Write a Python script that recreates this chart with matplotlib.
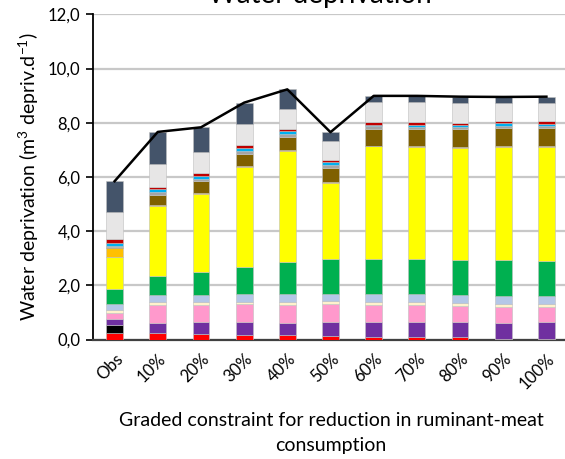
import matplotlib
matplotlib.use("Agg")
import matplotlib.pyplot as plt
import numpy as np

plt.rcParams['font.family'] = ['Lato', 'DejaVu Sans']
plt.rcParams['mathtext.fontset'] = 'custom'
plt.rcParams['mathtext.rm'] = 'Lato'
plt.rcParams['mathtext.it'] = 'Lato:italic'
plt.rcParams['mathtext.bf'] = 'Lato:bold'

categories = ["Obs", "10%", "20%", "30%", "40%", "50%", "60%", "70%", "80%", "90%", "100%"]

# stacked layers, bottom to top
red       = [0.25, 0.24, 0.21, 0.17, 0.17, 0.14, 0.09, 0.09, 0.08, 0.02, 0.02]
black     = [0.29, 0.00, 0.00, 0.00, 0.00, 0.00, 0.00, 0.00, 0.00, 0.00, 0.00]
purple    = [0.23, 0.36, 0.42, 0.46, 0.45, 0.49, 0.57, 0.57, 0.58, 0.60, 0.61]
pink      = [0.22, 0.68, 0.65, 0.67, 0.66, 0.67, 0.62, 0.60, 0.59, 0.59, 0.58]
beige     = [0.10, 0.10, 0.10, 0.09, 0.12, 0.11, 0.10, 0.12, 0.10, 0.11, 0.11]
lightblue = [0.23, 0.25, 0.25, 0.28, 0.27, 0.26, 0.29, 0.29, 0.28, 0.27, 0.29]
green     = [0.54, 0.72, 0.87, 1.01, 1.18, 1.31, 1.31, 1.31, 1.30, 1.33, 1.30]
yellow    = [1.20, 2.59, 2.87, 3.70, 4.12, 2.81, 4.15, 4.13, 4.14, 4.20, 4.20]
orange    = [0.32, 0.02, 0.02, 0.02, 0.02, 0.02, 0.02, 0.02, 0.02, 0.02, 0.02]
brown     = [0.03, 0.38, 0.46, 0.45, 0.48, 0.53, 0.61, 0.63, 0.66, 0.66, 0.66]
tan       = [0.04, 0.10, 0.07, 0.11, 0.11, 0.10, 0.10, 0.09, 0.08, 0.08, 0.09]
cyan      = [0.10, 0.12, 0.13, 0.12, 0.13, 0.11, 0.06, 0.08, 0.10, 0.10, 0.09]
darkred   = [0.16, 0.08, 0.08, 0.09, 0.06, 0.07, 0.09, 0.08, 0.07, 0.08, 0.09]
lightgray = [0.98, 0.82, 0.80, 0.77, 0.75, 0.72, 0.74, 0.74, 0.71, 0.67, 0.68]
slate     = [1.15, 1.20, 0.90, 0.80, 0.71, 0.31, 0.24, 0.24, 0.25, 0.22, 0.22]

layers = [red, black, purple, pink, beige, lightblue, green, yellow, orange,
          brown, tan, cyan, darkred, lightgray, slate]
colors = ["#FF0000", "#000000", "#7030A0", "#FF99CC", "#FFF2CC", "#B4C7E7",
          "#00B050", "#FFFF00", "#FFC000", "#7F6000", "#A5A5A5", "#00B0F0",
          "#C00000", "#E7E6E6", "#44546A"]

yticks = [0, 2, 4, 6, 8, 10, 12]
ytick_labels = ["0,0", "2,0", "4,0", "6,0", "8,0", "10,0", "12,0"]

W, H = 565, 459
fig = plt.figure(figsize=(W / 100, H / 100), dpi=100)
ax = fig.add_axes([93 / W, (H - 339.5) / H, (568 - 93) / W, (339.5 - 14.3) / H])

x = np.arange(len(categories))
bottom = np.zeros(len(categories))
for vals, c in zip(layers, colors):
    vals = np.array(vals)
    ax.bar(x, vals, width=0.39, bottom=bottom, color=c,
           edgecolor="#BFBFBF", linewidth=0.4, zorder=3)
    bottom += vals

total = bottom
ax.plot(x, total, color="black", linewidth=1.8, zorder=4)

ax.set_xlim(-0.5, len(categories) - 0.5)
ax.set_ylim(0, 12)
ax.set_yticks(yticks)
ax.set_yticklabels(ytick_labels, fontsize=12)
ax.set_xticks(x)
ax.set_xticklabels(categories, rotation=45, ha="right", rotation_mode="anchor",
                   fontsize=12)
ax.tick_params(axis="x", length=0, pad=8)
ax.tick_params(axis="y", direction="out", length=5, width=1.2, pad=4)

ax.yaxis.grid(True, color="#C8C8C8", linewidth=1.6, zorder=0)
ax.set_axisbelow(True)
for s in ["top", "right"]:
    ax.spines[s].set_visible(False)
ax.spines["left"].set_linewidth(1.3)
ax.spines["left"].set_color("black")
ax.spines["bottom"].set_linewidth(1.6)
ax.spines["bottom"].set_color("#404040")

ax.set_ylabel(r"Water deprivation (m$^{3}$ depriv.d$^{-1}$)", fontsize=14,
              labelpad=5)
fig.text(331 / W, 1 - 420 / H,
         "Graded constraint for reduction in ruminant-meat", ha="center",
         va="center", fontsize=14)
fig.text(331 / W, 1 - 446 / H, "consumption", ha="center", va="center",
         fontsize=14)
fig.text(320 / W, 1 - 3.5 / H, "Water deprivation", ha="center",
         va="baseline", fontsize=20)

fig.savefig("out.png", dpi=100)
